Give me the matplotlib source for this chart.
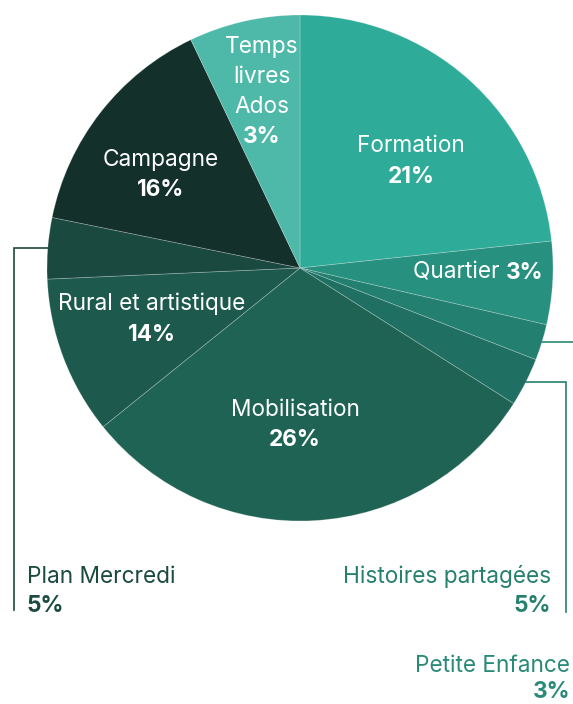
import numpy as np
import matplotlib
matplotlib.use("Agg")
from matplotlib import pyplot as plt

# slice sizes (angles), clockwise from 12 o'clock
names = ["Formation", "Quartier", "Petite Enfance", "Histoires partagées",
         "Mobilisation", "Rural et artistique", "Plan Mercredi", "Campagne",
         "Temps livres Ados"]
sizes = [23.3, 5.3, 2.3, 3.1, 30.2, 10.1, 3.9, 14.7, 7.1]
shown_pct = ["21%", "3%", "3%", "5%", "26%", "14%", "5%", "16%", "3%"]
colors = ["#2eab99", "#27907f", "#238071", "#1f7062", "#1f6354",
          "#1d5a4d", "#1a4940", "#13302b", "#4fb9a9"]

plt.rcParams['font.family'] = ['Inter', 'DejaVu Sans']

W, H = 573, 704
fig = plt.figure(figsize=(W / 100, H / 100), dpi=100)
ax = fig.add_axes([0, 0, 1, 1])

cx, cy, R = 300, H - 268, 253
wedges, _ = ax.pie(sizes, colors=colors, startangle=90, counterclock=False,
                   center=(cx, cy), radius=R, frame=True,
                   wedgeprops=dict(edgecolor=(1, 1, 1, 0.25), linewidth=0.6))
ax.set_xlim(0, W)
ax.set_ylim(0, H)
ax.set_aspect('equal')
ax.axis('off')

fs = 16.3
white = 'white'


def label(x, y, name, pct, color=white, ha='center', gap=30):
    ax.text(x, H - y, name, ha=ha, va='center', fontsize=fs, color=color)
    ax.text(x, H - y - gap, pct, ha=ha, va='center', fontsize=fs,
            color=color, fontweight='bold')


# labels inside the pie
label(411, 146, "Formation", shown_pct[0], gap=31)
label(295, 410, "Mobilisation", shown_pct[4])
label(152, 304, "Rural et artistique", shown_pct[5], gap=31)
label(161, 160, "Campagne", shown_pct[7], gap=30)
for i, word in enumerate(["Temps", "livres", "Ados"]):
    ax.text(262, H - 47 - 30 * i, word, ha='center', va='center',
            fontsize=fs, color=white)
ax.text(262, H - 137, shown_pct[8], ha='center', va='center', fontsize=fs,
        color=white, fontweight='bold')
ax.text(506, H - 273, "Quartier ", ha='right', va='center', fontsize=fs,
        color=white)
ax.text(506, H - 273, shown_pct[1], ha='left', va='center', fontsize=fs,
        color=white, fontweight='bold')


# leader lines start at the middle of the wedge on the rim
def mid_point(w):
    a = np.deg2rad((w.theta1 + w.theta2) / 2)
    return cx + R * np.cos(a), cy + R * np.sin(a)


plan_c = "#1a4a40"
x0, y0 = mid_point(wedges[6])
ax.plot([x0, 13.5, 13.5], [y0, y0, H - 610], color=plan_c, lw=1.2,
        solid_joinstyle='miter')
label(27, 577, "Plan Mercredi", shown_pct[6], color=plan_c, ha='left', gap=29)

hist_c = "#26806e"
x0, y0 = mid_point(wedges[3])
ax.plot([x0, 565.5, 565.5], [y0, y0, H - 612], color=hist_c, lw=1.2,
        solid_joinstyle='miter')
label(551, 577, "Histoires partagées", shown_pct[3], color=hist_c,
      ha='right', gap=29)

pe_c = "#2a8a78"
x0, y0 = mid_point(wedges[2])
ax.plot([x0, 580], [y0, y0], color=pe_c, lw=1.2)
label(570, 666, "Petite Enfance", shown_pct[2], color=pe_c, ha='right',
      gap=26)

fig.savefig("out.png", dpi=100)
